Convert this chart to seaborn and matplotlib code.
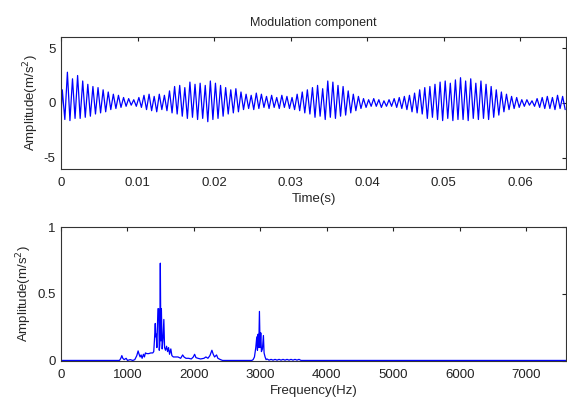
import numpy as np
import pandas as pd
import matplotlib
matplotlib.use("Agg")
import matplotlib.pyplot as plt
import seaborn as sns

# ---------------- data ----------------
# time-domain: positive peak and negative trough of each carrier cycle
cycle_period_s = 0.000667
start_value = -1.3
peaks = [1.2, 2.8, 2.2, 2.5, 2.0, 1.7, 1.5, 1.4, 1.2, 1.0,
         0.8, 0.7, 0.5, 0.4, 0.3, 0.5, 0.7, 0.8, 0.6, 0.8,
         0.7, 1.1, 1.5, 1.6, 1.4, 1.9, 1.7, 1.8, 1.6, 2.0,
         1.8, 1.6, 1.4, 1.2, 1.3, 1.0, 0.8, 0.7, 0.9, 0.8,
         0.6, 0.7, 0.5, 0.7, 0.6, 0.5, 0.8, 1.0, 1.2, 1.4,
         1.6, 1.3, 2.0, 1.9, 1.6, 1.5, 1.1, 0.8, 0.6, 0.4,
         0.3, 0.4, 0.3, 0.2, 0.3, 0.4, 0.5, 0.6, 0.7, 0.9,
         1.2, 1.4, 1.5, 1.7, 1.9, 2.0, 1.8, 2.1, 2.3, 2.0,
         2.2, 1.8, 2.0, 1.7, 1.5, 1.2, 1.0, 0.8, 0.6, 0.5,
         0.3, 0.3, 0.2, 0.4, 0.5, 0.6, 0.5, 0.7, 0.6]
troughs = [-1.5, -1.6, -1.4, -1.4, -1.3, -1.2, -1.0, -0.9, -0.8, -0.6,
           -0.5, -0.4, -0.3, -0.2, -0.3, -0.4, -0.6, -0.7, -0.8, -0.6,
           -0.7, -0.9, -1.0, -1.2, -1.4, -1.3, -1.5, -1.4, -1.7, -1.5,
           -1.4, -1.2, -1.0, -0.9, -0.8, -0.6, -0.5, -0.6, -0.5, -0.4,
           -0.5, -0.4, -0.5, -0.4, -0.5, -0.6, -0.7, -0.9, -1.0, -1.3,
           -1.2, -1.5, -1.3, -1.4, -1.2, -1.1, -0.9, -0.7, -0.5, -0.4,
           -0.3, -0.3, -0.4, -0.3, -0.3, -0.4, -0.5, -0.6, -0.8, -0.9,
           -1.0, -1.4, -1.3, -1.5, -1.6, -1.4, -1.6, -1.5, -1.5, -1.6,
           -1.4, -1.5, -1.4, -1.5, -1.3, -1.1, -0.8, -0.6, -0.5, -0.4,
           -0.3, -0.2, -0.3, -0.4, -0.5, -0.5, -0.6, -0.5, -0.6]

# spectrum: frequency (Hz) and amplitude
spec_freq = [0, 880, 900, 915, 930, 950, 980, 1000, 1040, 1080,
             1110, 1140, 1160, 1175, 1190, 1205, 1220, 1240, 1255, 1270,
             1290, 1320, 1350, 1380, 1395, 1405, 1418, 1426, 1432, 1442,
             1458, 1470, 1478, 1486, 1494, 1502, 1510, 1522, 1535, 1547,
             1558, 1572, 1588, 1603, 1618, 1633, 1652, 1668, 1690, 1720,
             1760, 1800, 1830, 1850, 1880, 1920, 1960, 1990, 2010, 2030,
             2060, 2100, 2150, 2180, 2210, 2240, 2270, 2290, 2310, 2340,
             2360, 2400, 2430, 2870, 2890, 2910, 2930, 2945, 2955, 2965,
             2975, 2985, 2995, 3005, 3015, 3030, 3045, 3055, 3070, 3085,
             3100, 3130, 3160, 3190, 3220, 3250, 3280, 3310, 3340, 3370,
             3400, 3430, 3460, 3490, 3520, 3550, 3580, 3610, 7600]
spec_amp = [0.004, 0.004, 0.02, 0.04, 0.02, 0.01, 0.02, 0.004, 0.01, 0.004,
            0.01, 0.04, 0.075, 0.05, 0.03, 0.045, 0.02, 0.05, 0.03, 0.06,
            0.055, 0.055, 0.06, 0.06, 0.07, 0.15, 0.28, 0.18, 0.2, 0.1,
            0.39, 0.39, 0.08, 0.12, 0.73, 0.15, 0.39, 0.09, 0.17, 0.31,
            0.1, 0.08, 0.11, 0.07, 0.1, 0.05, 0.09, 0.04, 0.03, 0.03,
            0.03, 0.02, 0.045, 0.03, 0.02, 0.02, 0.015, 0.03, 0.05, 0.025,
            0.02, 0.015, 0.02, 0.03, 0.02, 0.04, 0.08, 0.05, 0.03, 0.045,
            0.02, 0.01, 0.004, 0.004, 0.01, 0.03, 0.1, 0.18, 0.08, 0.2,
            0.1, 0.37, 0.1, 0.21, 0.07, 0.09, 0.19, 0.06, 0.03, 0.01,
            0.015, 0.006, 0.012, 0.006, 0.012, 0.006, 0.012, 0.006, 0.012, 0.006,
            0.012, 0.006, 0.012, 0.006, 0.012, 0.006, 0.012, 0.004, 0.004]

time_ticks = [0, 0.01, 0.02, 0.03, 0.04, 0.05, 0.06]
time_ticklabels = ["0", "0.01", "0.02", "0.03", "0.04", "0.05", "0.06"]
freq_ticks = [0, 1000, 2000, 3000, 4000, 5000, 6000, 7000]
amp_ticks = [-5, 0, 5]
amp_ticklabels = ["-5", "0", "5"]

# ---------------- build tables ----------------
t_vals = [0.0]
y_vals = [start_value]
for k, (p, q) in enumerate(zip(peaks, troughs)):
    t_vals.append((k + 0.25) * cycle_period_s)
    y_vals.append(p)
    t_vals.append((k + 0.75) * cycle_period_s)
    y_vals.append(q)
df_time = pd.DataFrame({"t": t_vals, "a": y_vals})
df_spec = pd.DataFrame({"f": spec_freq, "a": spec_amp})

# ---------------- plot ----------------
sns.set_style("white")
plt.rcParams["font.family"] = ["Liberation Sans", "DejaVu Sans"]
plt.rcParams["font.size"] = 9.5
plt.rcParams["axes.unicode_minus"] = False

fig = plt.figure(figsize=(5.67, 4.01), dpi=100)
ax1 = fig.add_axes([0.1076, 0.5786, 0.891, 0.3291])
ax2 = fig.add_axes([0.1076, 0.0998, 0.891, 0.3341])

sns.lineplot(data=df_time, x="t", y="a", ax=ax1, color="#0000ff",
             linewidth=0.9, estimator=None, sort=False)
sns.lineplot(data=df_spec, x="f", y="a", ax=ax2, color="#0000ff",
             linewidth=0.9, estimator=None, sort=False)

ax1.set_xlim(0, 0.066)
ax1.set_ylim(-6, 6)
ax1.set_xticks(time_ticks)
ax1.set_xticklabels(time_ticklabels)
ax1.set_yticks(amp_ticks)
ax1.set_yticklabels(amp_ticklabels)
ax1.set_xlabel("Time(s)", labelpad=3)
ax1.set_ylabel("Amplitude(m/s$^2$)", labelpad=2)
ax1.set_title("Modulation component", fontsize=9, pad=8)

ax2.set_xlim(0, 7600)
ax2.set_ylim(0, 1)
ax2.set_xticks(freq_ticks)
ax2.set_yticks([0, 0.5, 1])
ax2.set_yticklabels(["0", "0.5", "1"])
ax2.set_xlabel("Frequency(Hz)", labelpad=3)
ax2.set_ylabel("Amplitude(m/s$^2$)", labelpad=2)

for ax in (ax1, ax2):
    for s in ax.spines.values():
        s.set_visible(True)
        s.set_color("#333333")
        s.set_linewidth(0.8)
    ax.tick_params(direction="in", length=3, width=0.8, top=True, right=True,
                   labelsize=9.5, colors="#222222")
    ax.tick_params(axis="x", pad=6)
    ax.tick_params(axis="y", pad=4)
    ax.grid(False)

fig.savefig("out.png", dpi=100)
